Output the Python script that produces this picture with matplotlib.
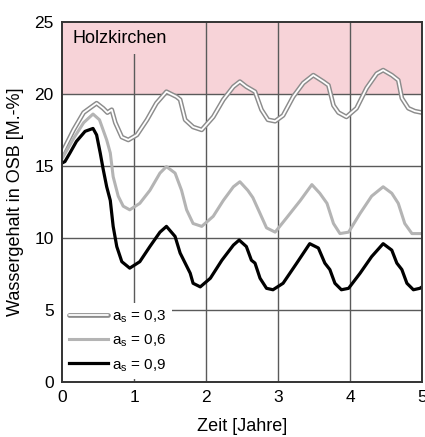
"""
Wassergehalt in OSB - Holzkirchen, Vergleich der Absorptionszahl a_s
"""

import matplotlib
matplotlib.use("Agg")
import matplotlib.pyplot as plt
from matplotlib.legend_handler import HandlerTuple

plt.rcParams['font.family'] = ['Liberation Sans', 'DejaVu Sans']

# Werte (Zeit in Jahren, Wassergehalt in M.-%)
zeit_03 = [0.0, 0.02, 0.16, 0.30, 0.41, 0.48, 0.57, 0.63, 0.69, 0.74, 0.83, 0.92,
           1.04, 1.18, 1.31, 1.45, 1.59, 1.64, 1.71, 1.82, 1.94, 2.10, 2.24, 2.38,
           2.47, 2.56, 2.68, 2.77, 2.86, 2.96, 3.07, 3.21, 3.35, 3.49, 3.63, 3.70,
           3.77, 3.84, 3.95, 4.09, 4.23, 4.37, 4.46, 4.58, 4.67, 4.72, 4.81, 4.90,
           5.0]
wasser_03 = [15.9, 16.1, 17.5, 18.7, 19.1, 19.35, 19.0, 18.7, 18.9, 18.0, 17.0, 16.8,
             17.15, 18.2, 19.35, 20.15, 19.8, 19.6, 18.2, 17.7, 17.5, 18.4, 19.6,
             20.5, 20.85, 20.5, 20.15, 18.9, 18.2, 18.1, 18.5, 19.8, 20.75, 21.3,
             20.85, 20.6, 19.2, 18.7, 18.4, 19.0, 20.4, 21.4, 21.65, 21.3, 20.95,
             19.7, 19.0, 18.8, 18.7]

zeit_06 = [0.0, 0.16, 0.30, 0.43, 0.52, 0.62, 0.67, 0.71, 0.78, 0.85, 0.94, 1.08,
           1.22, 1.36, 1.45, 1.57, 1.66, 1.73, 1.82, 1.94, 2.10, 2.24, 2.38, 2.47,
           2.58, 2.65, 2.75, 2.84, 2.96, 3.12, 3.31, 3.47, 3.58, 3.68, 3.77, 3.86,
           3.98, 4.14, 4.30, 4.46, 4.58, 4.67, 4.76, 4.86, 5.0]
wasser_06 = [15.5, 16.9, 18.0, 18.6, 18.2, 16.8, 15.9, 14.25, 12.9, 12.2, 11.95, 12.4,
             13.3, 14.5, 14.95, 14.5, 13.3, 11.95, 11.0, 10.8, 11.5, 12.6, 13.55,
             13.9, 13.3, 12.8, 11.7, 10.7, 10.4, 11.4, 12.6, 13.7, 13.1, 12.4, 11.0,
             10.3, 10.4, 11.7, 12.9, 13.55, 13.1, 12.4, 11.0, 10.3, 10.3]

zeit_09 = [0.0, 0.04, 0.11, 0.20, 0.32, 0.43, 0.48, 0.53, 0.57, 0.62, 0.67, 0.71,
           0.76, 0.83, 0.94, 1.08, 1.22, 1.36, 1.45, 1.57, 1.64, 1.71, 1.78, 1.82,
           1.92, 2.06, 2.22, 2.38, 2.46, 2.56, 2.63, 2.68, 2.75, 2.84, 2.93, 3.07,
           3.26, 3.44, 3.56, 3.65, 3.72, 3.79, 3.88, 3.98, 4.14, 4.30, 4.46, 4.58,
           4.65, 4.72, 4.79, 4.88, 4.97, 5.0]
wasser_09 = [15.2, 15.3, 15.9, 16.7, 17.4, 17.6, 17.15, 15.9, 14.8, 13.55, 12.6, 10.8,
             9.4, 8.35, 7.9, 8.35, 9.4, 10.4, 10.8, 10.1, 8.95, 8.25, 7.55, 6.85,
             6.6, 7.2, 8.45, 9.5, 9.85, 9.4, 8.45, 8.25, 7.2, 6.5, 6.4, 6.85, 8.25,
             9.6, 9.3, 8.25, 7.8, 6.85, 6.4, 6.5, 7.55, 8.7, 9.6, 9.15, 8.25, 7.8,
             6.85, 6.4, 6.5, 6.6]

labels = [r'a$_\mathregular{s}$ = 0,3', r'a$_\mathregular{s}$ = 0,6',
          r'a$_\mathregular{s}$ = 0,9']

GRID = '#5a5a5a'
PINK = '#f7d3d8'
GRAU = '#b4b4b4'

fig = plt.figure(figsize=(4.25, 4.37), dpi=100)
ax = fig.add_axes([0.146, 0.126, 0.847, 0.824])

# Bereich oberhalb 20 M.-% rosa hinterlegt
ax.axhspan(20, 25, color=PINK, zorder=0, lw=0)

for x in [1, 2, 3, 4]:
    ax.axvline(x, color=GRID, lw=1.0, zorder=1)
for y in [5, 10, 15, 20]:
    ax.axhline(y, color=GRID, lw=1.0, zorder=1)

# a_s = 0,3 als Doppellinie (grau mit weißem Kern)
l03a, = ax.plot(zeit_03, wasser_03, color='#8c8c8c', lw=3.4, zorder=3,
                solid_joinstyle='round', solid_capstyle='round')
l03b, = ax.plot(zeit_03, wasser_03, color='white', lw=1.3, zorder=4,
                solid_joinstyle='round', solid_capstyle='round')
l06, = ax.plot(zeit_06, wasser_06, color=GRAU, lw=2.2, zorder=3,
               solid_joinstyle='round')
l09, = ax.plot(zeit_09, wasser_09, color='black', lw=2.3, zorder=5,
               solid_joinstyle='round')

ax.set_xlim(0, 5)
ax.set_ylim(0, 25)
ax.set_xticks([0, 1, 2, 3, 4, 5])
ax.set_yticks([0, 5, 10, 15, 20, 25])
ax.tick_params(length=0, labelsize=12.5, pad=6)
for s in ax.spines.values():
    s.set_color('#333333')
    s.set_linewidth(1.4)
    s.set_zorder(6)

ax.set_xlabel('Zeit [Jahre]', fontsize=13, labelpad=9)
ax.set_ylabel('Wassergehalt in OSB [M.-%]', fontsize=13, labelpad=7)

ax.text(0.15, 23.85, 'Holzkirchen', fontsize=13, va='center', ha='left', zorder=5,
        bbox=dict(facecolor=PINK, edgecolor='none', pad=5))

leg = ax.legend([(l03a, l03b), l06, l09], labels,
                handler_map={tuple: HandlerTuple(ndivide=1, pad=0)},
                loc='lower left', bbox_to_anchor=(-0.005, 0.0), frameon=True,
                fontsize=11, handlelength=2.6, handletextpad=0.25,
                labelspacing=0.5, borderpad=0.35, borderaxespad=0.2)
leg.get_frame().set_facecolor('white')
leg.get_frame().set_edgecolor('none')
leg.get_frame().set_alpha(1.0)
leg.set_zorder(7)

fig.savefig('out.png', dpi=100)
